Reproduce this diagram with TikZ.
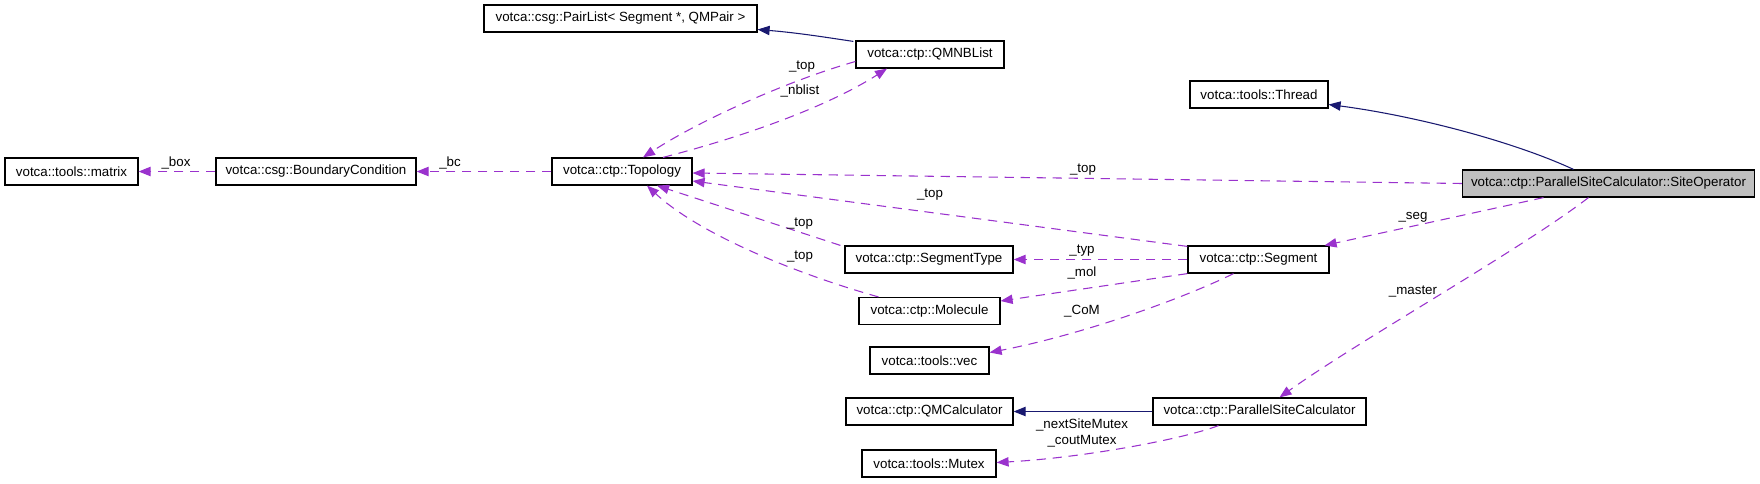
\documentclass[tikz,border=0pt]{standalone}
\usepackage{fontspec}
\setmainfont{Liberation Sans}
\usetikzlibrary{arrows.meta,calc}
\definecolor{dep}{HTML}{9A32CD}
\definecolor{inh}{HTML}{191970}
\definecolor{boxfill}{HTML}{BFBFBF}
\begin{document}
\begin{tikzpicture}[x=0.75pt,y=-0.75pt,
  box/.style={draw=black, line width=0.9pt, fill=white, minimum width=#1*0.75pt,
    minimum height=20.25pt, inner sep=0pt, font=\fontsize{10}{12}\selectfont},
  use/.style={draw=dep, line width=0.8pt, dash pattern=on 7pt off 5pt,
    -{Triangle[length=9pt,width=7pt]}},
  inherit/.style={draw=inh, line width=0.8pt, -{Triangle[length=9pt,width=7pt]}},
  lbl/.style={font=\fontsize{10}{12}\selectfont, inner sep=0pt, align=center}]
\useasboundingbox (0,0) rectangle (1760,483);

% nodes
\node[box=133] (matrix) at (71.5,171.5) {votca::tools::matrix};
\node[box=200] (bc) at (316,171.5) {votca::csg::BoundaryCondition};
\node[box=140] (topo) at (622,171.5) {votca::ctp::Topology};
\node[box=273] (pair) at (620.5,18.5) {votca::csg::PairList< Segment *, QMPair >};
\node[box=148] (nbl) at (930,54.5) {votca::ctp::QMNBList};
\node[box=138] (thread) at (1259,94.5) {votca::tools::Thread};
\node[box=292, fill=boxfill] (sitop) at (1608.5,183.5) {votca::ctp::ParallelSiteCalculator::SiteOperator};
\node[box=168] (segtype) at (929,259.5) {votca::ctp::SegmentType};
\node[box=141] (seg) at (1258.5,259.5) {votca::ctp::Segment};
\node[box=141] (mol) at (929.5,311) {votca::ctp::Molecule};
\node[box=119] (vec) at (929.5,360.5) {votca::tools::vec};
\node[box=167] (qmc) at (929.5,411.5) {votca::ctp::QMCalculator};
\node[box=213] (psc) at (1259.5,411.5) {votca::ctp::ParallelSiteCalculator};
\node[box=134] (mutex) at (929,463.5) {votca::tools::Mutex};

% edges
\draw[use] (bc.west) -- (matrix.east);
\draw[use] (topo.west) -- (bc.east);
\draw[use] (sitop.west) -- ($(topo.east)+(0,1.5)$);
\draw[use] ($(seg.north west)+(0,1)$) -- ($(topo.east)+(0,9.5)$);
\draw[use] ($(segtype.north west)+(-4,0)$) -- ($(topo.south)+(35,0)$);
\draw[use] ($(mol.north)+(-51,0)$) .. controls (800,275) and (700,235) .. ($(topo.south)+(25,0)$);
\draw[use] ($(nbl.west)+(0,7)$) .. controls (790,80) and (700,120) .. ($(topo.north)+(21,0)$);
\draw[use] ($(topo.north)+(41,0)$) .. controls (750,135) and (830,105) .. ($(nbl.south)+(-43,0)$);
\draw[inherit] ($(nbl.north west)+(-2,1)$) .. controls (830,38) and (800,33) .. ($(pair.east)+(0,11)$);
\draw[inherit] ($(sitop.north)+(-35,0)$) .. controls (1510,140) and (1410,115) .. ($(thread.east)+(0,10)$);
\draw[use] ($(sitop.south)+(-65,0)$) -- ($(seg.north east)+(-5,0)$);
\draw[use] ($(sitop.south)+(-20,0)$) .. controls (1520,250) and (1360,340) .. ($(psc.north)+(20,0)$);
\draw[use] (seg.west) -- (segtype.east);
\draw[use] (seg.south west) -- ($(mol.east)+(0,-10)$);
\draw[use] ($(seg.south)+(-25,0)$) .. controls (1180,300) and (1080,335) .. ($(vec.east)+(0,-8)$);
\draw[inherit] (psc.west) -- (qmc.east);
\draw[use] ($(psc.south)+(-41,0)$) .. controls (1180,440) and (1080,458) .. ($(mutex.east)+(0,-1)$);

% labels
\node[lbl] (lbox) at (176,163) {\_box};
\node[lbl] (lbc) at (450,163) {\_bc};
\node[lbl] (ltop1) at (1083,170) {\_top};
\node[lbl] (ltop2) at (930,195) {\_top};
\node[lbl] (ltop3) at (800,224) {\_top};
\node[lbl] (ltop4) at (800,257) {\_top};
\node[lbl] (ltop5) at (802,67) {\_top};
\node[lbl] (lnbl) at (800,91) {\_nblist};
\node[lbl] (lseg) at (1413,217) {\_seg};
\node[lbl] (lmaster) at (1413,292) {\_master};
\node[lbl] (ltyp) at (1082,251) {\_typ};
\node[lbl] (lmol) at (1082,273) {\_mol};
\node[lbl] (lcom) at (1082,311) {\_CoM};
\node[lbl] (lmutex) at (1082,433) {\_nextSiteMutex\\\_coutMutex};
\end{tikzpicture}
\end{document}
